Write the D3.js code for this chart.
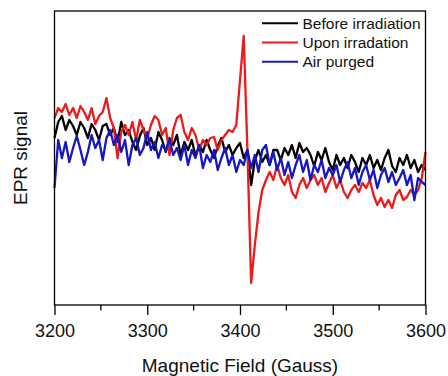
<!DOCTYPE html>
<html>
<head>
<meta charset="utf-8">
<script src="https://cdn.jsdelivr.net/npm/d3@7"></script>
<style>
  body { margin: 0; background: #fff; }
  svg { display: block; font-family: "Liberation Sans", Arial, sans-serif; }
</style>
</head>
<body>
<svg id="chart" width="448" height="376"></svg>
<script>
// magnetic field sweep, 3200-3600 G in 4 G steps
const field = d3.range(3200, 3601, 4);

// EPR intensity (arbitrary units)
const beforeIrr = [
  167,183,189,175,185,179,170,183,177,167,
  181,175,165,179,181,170,177,163,183,170,
  175,163,155,169,177,160,167,155,173,165,
  153,167,160,170,150,163,155,165,149,160,
  153,165,155,147,159,167,153,160,150,157,
  162,147,155,120,145,155,143,150,140,155,
  155,145,157,150,160,147,162,153,157,150,
  139,153,145,157,143,135,150,140,147,137,
  150,143,133,147,140,150,137,145,135,147,
  155,139,133,147,140,150,137,145,133,140,
  135
];
const uponIrr = [
  187,197,193,201,190,197,187,199,193,185,
  197,181,189,193,207,187,177,147,173,180,
  170,183,165,185,175,167,180,189,185,170,
  177,150,175,187,190,173,165,177,170,155,
  165,160,167,168,155,165,170,175,173,180,
  225,269,155,22,60,93,115,125,133,125,
  140,127,120,130,113,107,120,127,117,125,
  130,120,127,113,122,130,117,125,113,107,
  115,120,113,122,117,125,110,100,107,98,
  105,97,110,115,105,108,115,110,115,127,
  153
];
const airPurged = [
  117,165,147,163,143,157,169,155,140,153,
  170,157,165,145,167,175,160,170,153,165,
  140,160,167,150,157,173,155,163,147,160,
  155,165,150,157,145,160,140,155,147,160,
  137,150,143,155,135,147,157,140,150,133,
  145,140,155,137,150,133,155,160,140,153,
  135,147,130,143,127,140,150,133,145,125,
  140,133,145,127,137,130,140,123,135,143,
  127,137,120,133,140,125,135,117,130,137,
  123,133,120,127,135,120,130,105,127,123,
  120
];

const seriesNames = ['Before irradiation', 'Upon irradation', 'Air purged'];
const seriesColors = ['#000000', '#ec1b1b', '#1616c2'];
const majorTicks = [3200, 3300, 3400, 3500, 3600];
const minorTicks = [3250, 3350, 3450, 3550];

const svg = d3.select('#chart');
const margin = { top: 11, right: 22.5, bottom: 71, left: 54.5 };
const width = +svg.attr('width') - margin.left - margin.right;
const height = +svg.attr('height') - margin.top - margin.bottom;

const x = d3.scaleLinear().domain([3200, 3600]).range([0, width]);
const y = d3.scaleLinear().domain([0, 294]).range([height, 0]);

const g = svg.append('g')
  .attr('transform', `translate(${margin.left},${margin.top})`);

const series = [beforeIrr, uponIrr, airPurged].map((vals, i) => ({
  name: seriesNames[i],
  color: seriesColors[i],
  values: vals.map((v, j) => ({ f: field[j], v: v }))
}));

const line = d3.line()
  .x(d => x(d.f))
  .y(d => y(d.v));

g.selectAll('.trace')
  .data(series)
  .enter().append('path')
  .attr('class', 'trace')
  .attr('fill', 'none')
  .attr('stroke', d => d.color)
  .attr('stroke-width', 2.3)
  .attr('stroke-linejoin', 'round')
  .attr('d', d => line(d.values));

// frame
g.append('rect')
  .attr('width', width)
  .attr('height', height)
  .attr('fill', 'none')
  .attr('stroke', '#000')
  .attr('stroke-width', 1.3);

// bottom axis: major ticks with labels, minor ticks without
const xAxis = g.append('g')
  .attr('transform', `translate(0,${height})`)
  .call(d3.axisBottom(x).tickValues(majorTicks).tickSize(10).tickPadding(9).tickFormat(d3.format('d')));
xAxis.select('.domain').remove();
xAxis.selectAll('line').attr('stroke-width', 1.3);
xAxis.selectAll('text')
  .attr('fill', '#111')
  .style('font-size', '18px')
  .style('font-family', '"Liberation Sans", Arial, sans-serif');

g.append('g')
  .attr('transform', `translate(0,${height})`)
  .selectAll('line')
  .data(minorTicks)
  .enter().append('line')
  .attr('x1', d => x(d))
  .attr('x2', d => x(d))
  .attr('y1', 0)
  .attr('y2', 5.5)
  .attr('stroke', '#000')
  .attr('stroke-width', 1.3);

// X-axis label
svg.append('text')
  .attr('x', margin.left + width / 2)
  .attr('y', 372)
  .attr('text-anchor', 'middle')
  .style('font-size', '19px')
  .attr('fill', '#111')
  .text('Magnetic Field (Gauss)');

// Y-axis label
svg.append('text')
  .attr('transform', 'rotate(-90)')
  .attr('x', -(margin.top + height / 2))
  .attr('y', 27)
  .attr('text-anchor', 'middle')
  .style('font-size', '19px')
  .attr('fill', '#111')
  .text('EPR signal');

// legend
const legend = svg.append('g')
  .selectAll('g')
  .data(series)
  .enter().append('g')
  .attr('transform', (d, i) => `translate(262,${23.3 + i * 19.2})`);

legend.append('line')
  .attr('x1', 0)
  .attr('x2', 36)
  .attr('stroke', d => d.color)
  .attr('stroke-width', 2);

legend.append('text')
  .attr('x', 40.5)
  .attr('y', 5.2)
  .style('font-size', '15.5px')
  .attr('fill', '#111')
  .text(d => d.name);
</script>
</body>
</html>
